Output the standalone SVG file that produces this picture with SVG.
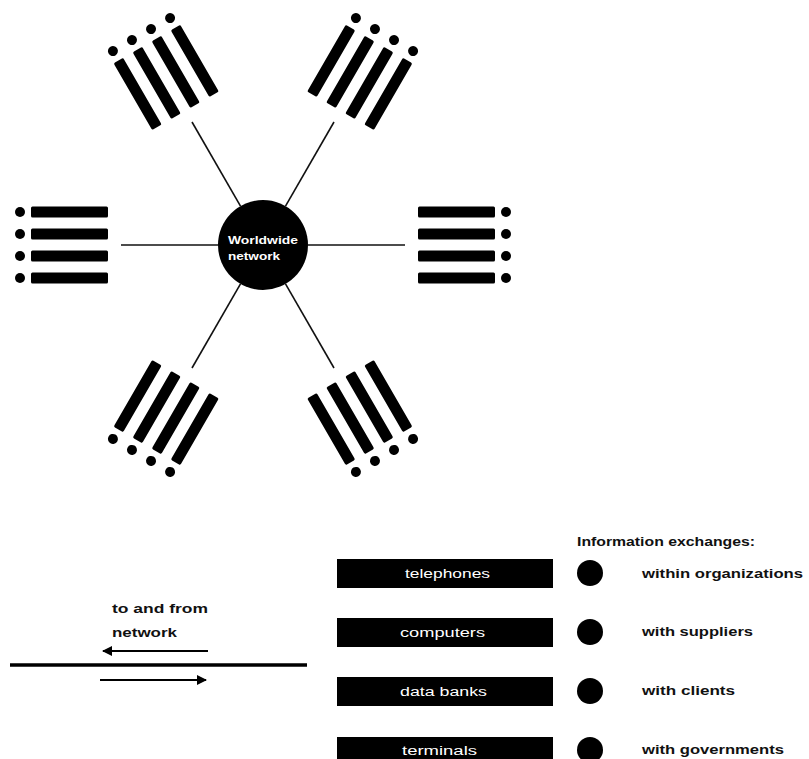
<svg xmlns="http://www.w3.org/2000/svg" width="809" height="759" viewBox="0 0 809 759">
<style>
.bar{fill:#000}
.dot{fill:#000}
.ray{stroke:#111;stroke-width:1.6;fill:none}
.wt{fill:#fff;font-family:"Liberation Sans",Arial,sans-serif;font-weight:bold}
.bt{fill:#fff;font-family:"Liberation Sans",Arial,sans-serif;font-size:12px}
.lt{fill:#111;font-family:"Liberation Sans",Arial,sans-serif;font-weight:bold;font-size:12px}
</style>
<defs>
<g id="cluster">
<rect class="bar" x="418" y="206.5" width="77" height="11" rx="1.5"/>
<rect class="bar" x="418" y="228.5" width="77" height="11" rx="1.5"/>
<rect class="bar" x="418" y="250.5" width="77" height="11" rx="1.5"/>
<rect class="bar" x="418" y="272.5" width="77" height="11" rx="1.5"/>
<circle class="dot" cx="506" cy="212" r="5"/>
<circle class="dot" cx="506" cy="234" r="5"/>
<circle class="dot" cx="506" cy="256" r="5"/>
<circle class="dot" cx="506" cy="278" r="5"/>
</g>
<marker id="ah" viewBox="0 0 10 10" refX="9" refY="5" markerWidth="5.5" markerHeight="5" orient="auto" markerUnits="strokeWidth">
<path d="M0,0 L10,5 L0,10 z" fill="#000"/>
</marker>
</defs>
<g id="connectors">
<line class="ray" x1="308" y1="245" x2="405" y2="245" transform="rotate(0 263 245)"/>
<line class="ray" x1="308" y1="245" x2="405" y2="245" transform="rotate(-60 263 245)"/>
<line class="ray" x1="308" y1="245" x2="405" y2="245" transform="rotate(-120 263 245)"/>
<line class="ray" x1="308" y1="245" x2="405" y2="245" transform="rotate(180 263 245)"/>
<line class="ray" x1="308" y1="245" x2="405" y2="245" transform="rotate(120 263 245)"/>
<line class="ray" x1="308" y1="245" x2="405" y2="245" transform="rotate(60 263 245)"/>
</g>
<g id="terminals-right"><use href="#cluster" transform="rotate(0 263 245)"/></g>
<g id="terminals-upper-right"><use href="#cluster" transform="rotate(-60 263 245)"/></g>
<g id="terminals-upper-left"><use href="#cluster" transform="rotate(-120 263 245)"/></g>
<g id="terminals-left"><use href="#cluster" transform="rotate(180 263 245)"/></g>
<g id="terminals-lower-left"><use href="#cluster" transform="rotate(120 263 245)"/></g>
<g id="terminals-lower-right"><use href="#cluster" transform="rotate(60 263 245)"/></g>
<g id="worldwide-network">
<circle cx="263" cy="245" r="45" fill="#000"/>
<text class="wt" x="228" y="244" font-size="10" textLength="70" lengthAdjust="spacingAndGlyphs">Worldwide</text>
<text class="wt" x="228" y="260" font-size="10" textLength="52" lengthAdjust="spacingAndGlyphs">network</text>
</g>
<g id="flow">
<text class="lt" x="112" y="613" textLength="96" lengthAdjust="spacingAndGlyphs">to and from</text>
<text class="lt" x="112" y="637" textLength="65" lengthAdjust="spacingAndGlyphs">network</text>
<line x1="10" y1="665" x2="307" y2="665" stroke="#000" stroke-width="3.5"/>
<line x1="208" y1="651" x2="103" y2="651" stroke="#000" stroke-width="2" marker-end="url(#ah)"/>
<line x1="100" y1="680" x2="206" y2="680" stroke="#000" stroke-width="2" marker-end="url(#ah)"/>
</g>
<g id="legend">
<text class="lt" x="577" y="546" textLength="178" lengthAdjust="spacingAndGlyphs">Information exchanges:</text>
<g id="telephones">
<rect x="337" y="559" width="216" height="29" fill="#000"/>
<text class="bt" x="405" y="578" textLength="85" lengthAdjust="spacingAndGlyphs">telephones</text>
</g>
<g id="computers">
<rect x="337" y="618" width="216" height="29" fill="#000"/>
<text class="bt" x="400" y="637" textLength="85" lengthAdjust="spacingAndGlyphs">computers</text>
</g>
<g id="data-banks">
<rect x="337" y="677" width="216" height="29" fill="#000"/>
<text class="bt" x="400" y="696" textLength="87" lengthAdjust="spacingAndGlyphs">data banks</text>
</g>
<g id="terminals">
<rect x="337" y="737" width="216" height="29" fill="#000"/>
<text class="bt" x="402" y="755" textLength="75" lengthAdjust="spacingAndGlyphs">terminals</text>
</g>
<g id="within-organizations">
<circle cx="590" cy="573" r="13" fill="#000"/>
<text class="lt" x="642" y="578" textLength="161" lengthAdjust="spacingAndGlyphs">within organizations</text>
</g>
<g id="with-suppliers">
<circle cx="590" cy="632" r="13" fill="#000"/>
<text class="lt" x="642" y="636" textLength="111" lengthAdjust="spacingAndGlyphs">with suppliers</text>
</g>
<g id="with-clients">
<circle cx="590" cy="691" r="13" fill="#000"/>
<text class="lt" x="642" y="695" textLength="93" lengthAdjust="spacingAndGlyphs">with clients</text>
</g>
<g id="with-governments">
<circle cx="590" cy="750" r="13" fill="#000"/>
<text class="lt" x="642" y="754" textLength="142" lengthAdjust="spacingAndGlyphs">with governments</text>
</g>
</g>
</svg>
